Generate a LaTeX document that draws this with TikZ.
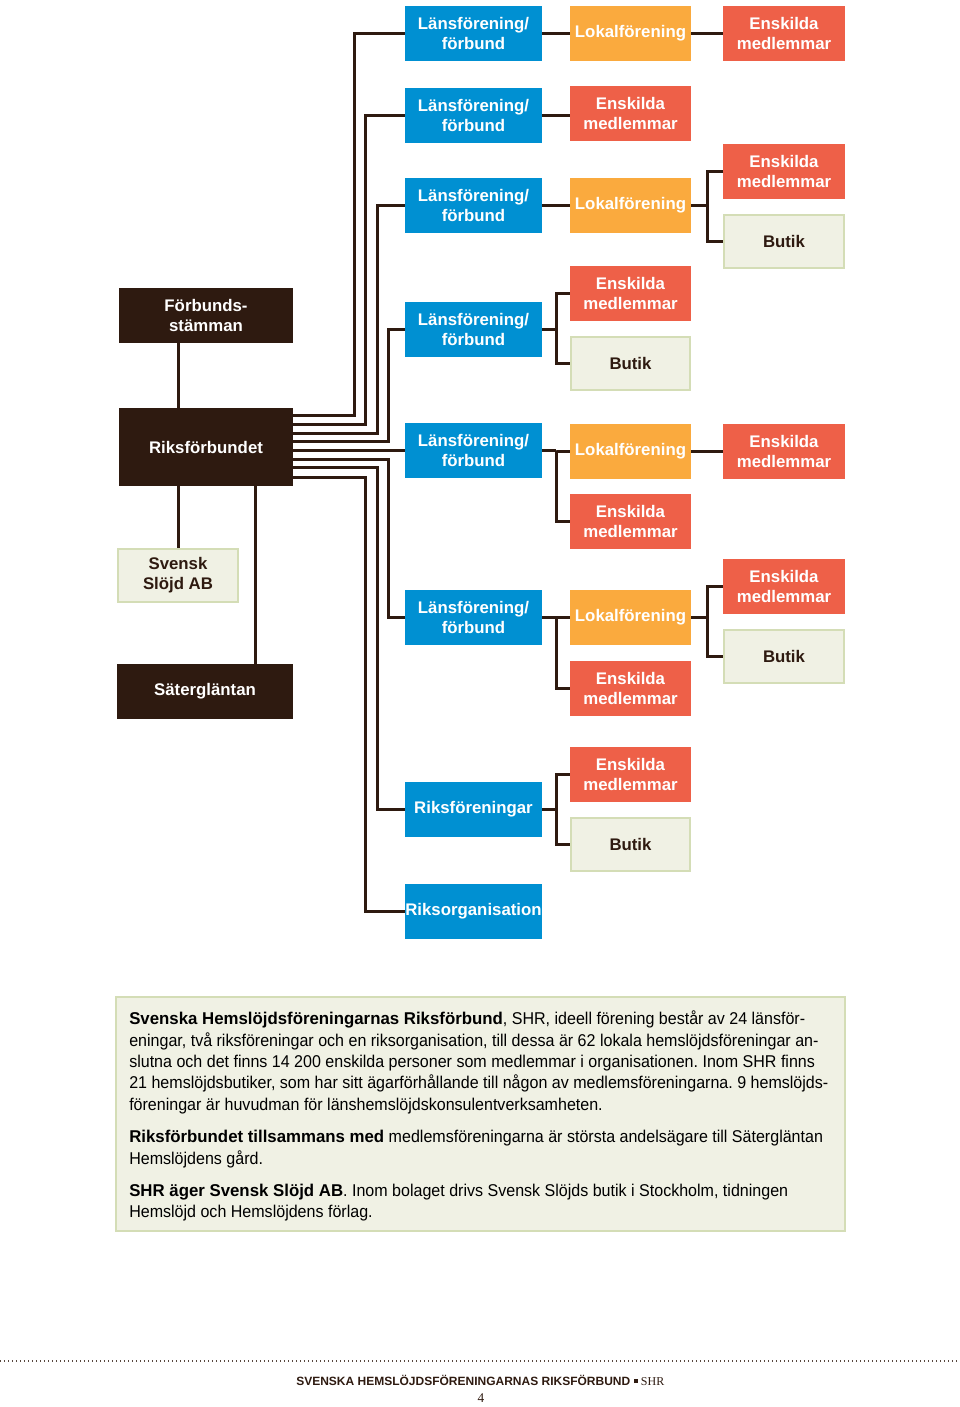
\documentclass[tikz,border=0pt]{standalone}
\usepackage{fontspec}
\setmainfont{Liberation Sans}
\newfontfamily\brodtext{Liberation Sans}[FakeStretch=0.94]
\newfontfamily\brodfet{Liberation Sans Bold}[FakeStretch=0.985]
\newfontfamily\antikva{Liberation Serif}
\newcommand{\fet}[1]{{\brodfet #1}}
\frenchspacing

\definecolor{shrbla}{RGB}{0,144,210}
\definecolor{shrorange}{RGB}{250,170,62}
\definecolor{shrrod}{RGB}{238,96,72}
\definecolor{shrmork}{RGB}{46,26,16}
\definecolor{butikfond}{RGB}{240,241,228}
\definecolor{butikkant}{RGB}{212,221,182}

\begin{document}
\begin{tikzpicture}[x=0.75pt,y=-0.75pt,
  every node/.style={inner sep=0pt,align=center,font=\fontsize{12.6}{15}\selectfont\bfseries},
  lan/.style={fill=shrbla,text=white,minimum width=102.75pt,minimum height=41.25pt},
  lokal/.style={fill=shrorange,text=white,minimum width=90.75pt,minimum height=41.25pt},
  enskild/.style={fill=shrrod,text=white,minimum width=91pt,minimum height=41.25pt},
  butik/.style={fill=butikfond,draw=butikkant,line width=1.5pt,text=shrmork,minimum width=89.5pt,minimum height=40pt},
  ledning/.style={fill=shrmork,text=white,minimum width=130.5pt,minimum height=41.25pt},
  linje/.style={draw=shrmork,line width=2.25pt}]
\useasboundingbox (0,0) rectangle (960,1407);

\node [ledning] (forb) at (206,315.5) {Förbunds-\\stämman};
\node [ledning,minimum height=58.5pt] (riks) at (206,447) {Riksförbundet};
\node [butik,minimum width=90pt] (svensk) at (178,575.5) {Svensk\\Slöjd AB};
\node [ledning,minimum width=132pt] (sater) at (205,691.5) {Sätergläntan};
\coordinate (saterled) at (255,0);

\node [lan] (l1) at (473.5,33.5) {Länsförening/\\förbund};
\node [lan] (l2) at (473.5,115.5) {Länsförening/\\förbund};
\node [lan] (l3) at (473.5,205) {Länsförening/\\förbund};
\node [lan] (l4) at (473.5,329.5) {Länsförening/\\förbund};
\node [lan] (l5) at (473.5,450.5) {Länsförening/\\förbund};
\node [lan] (l6) at (473.5,617.5) {Länsförening/\\förbund};
\node [lan] (l7) at (473.5,809) {Riksföreningar};
\node [lan] (l8) at (473.5,911.5) {Riksorganisation};

\node [lokal] (m1) at (630.5,33.5) {Lokalförening};
\node [enskild,minimum width=90.75pt] (m2) at (630.5,113.5) {Enskilda\\medlemmar};
\node [lokal] (m3) at (630.5,205) {Lokalförening};
\node [enskild,minimum width=90.75pt] (m4) at (630.5,293.5) {Enskilda\\medlemmar};
\node [butik] (m5) at (630.5,363.5) {Butik};
\node [lokal] (m6) at (630.5,451.5) {Lokalförening};
\node [enskild,minimum width=90.75pt] (m7) at (630.5,521.5) {Enskilda\\medlemmar};
\node [lokal] (m8) at (630.5,617.5) {Lokalförening};
\node [enskild,minimum width=90.75pt] (m9) at (630.5,688.5) {Enskilda\\medlemmar};
\node [enskild,minimum width=90.75pt] (m10) at (630.5,774.5) {Enskilda\\medlemmar};
\node [butik] (m11) at (630.5,844.5) {Butik};

\node [enskild] (r1) at (784,33.5) {Enskilda\\medlemmar};
\node [enskild] (r2) at (784,171.5) {Enskilda\\medlemmar};
\node [butik,minimum width=90.25pt] (r3) at (784,241.5) {Butik};
\node [enskild] (r4) at (784,451.5) {Enskilda\\medlemmar};
\node [enskild] (r5) at (784,586.5) {Enskilda\\medlemmar};
\node [butik,minimum width=90.25pt] (r6) at (784,656.5) {Butik};

\draw [linje] (forb.south -| svensk.north) -- (riks.north -| svensk.north);
\draw [linje] (riks.south -| svensk.north) -- (svensk.north);
\draw [linje] (riks.south -| saterled) -- (sater.north -| saterled);

\foreach \lan/\dy/\bx in {l1/-32/354,l2/-23/365,l3/-14/377,l4/-6/388,l5/3.5/396,l6/12/388,l7/20/377,l8/30/365}
  \draw [linje] (riks.east) ++(0,\dy) -| (\bx,0 |- \lan.west) -- (\lan.west);

\draw [linje] (l1.east) -- (m1.west);
\draw [linje] (m1.east) -- (r1.west);
\draw [linje] (l2.east) -- (l2.east -| m2.west);
\draw [linje] (l3.east) -- (m3.west);
\draw [linje] (m3.east) -- ++(16,0) coordinate (g3);
\draw [linje] (r2.west) -| (g3) |- (r3.west);
\draw [linje] (l4.east) -- ++(14,0) coordinate (g4);
\draw [linje] (m4.west) -| (g4) |- (m5.west);
\draw [linje] (l5.east) -- ++(14,0) coordinate (g5);
\draw [linje] (m6.west) -| (g5) |- (m7.west);
\draw [linje] (m6.east) -- (r4.west);
\draw [linje] (l6.east) -- ++(14,0) coordinate (g6);
\draw [linje] (m8.west) -| (g6) |- (m9.west);
\draw [linje] (m8.east) -- ++(16,0) coordinate (g8);
\draw [linje] (r5.west) -| (g8) |- (r6.west);
\draw [linje] (l7.east) -- ++(14,0) coordinate (g7);
\draw [linje] (m10.west) -| (g7) |- (m11.west);

\draw [fill=butikfond,draw=butikkant,line width=1.5pt] (116,997) rectangle (845,1231);
\node [anchor=north west,align=left,font=\brodtext\fontsize{12.8}{16.1}\selectfont] (fakta) at (129,1010.5) {%
\fet{Svenska Hemslöjdsföreningarnas Riksförbund}, SHR, ideell förening består av 24 länsför-\\
eningar, två riksföreningar och en riksorganisation, till dessa är 62 lokala hemslöjdsföreningar an-\\
slutna och det finns 14 200 enskilda personer som medlemmar i organisationen. Inom SHR finns\\
21 hemslöjdsbutiker, som har sitt ägarförhållande till någon av medlemsföreningarna. 9 hemslöjds-\\
föreningar är huvudman för länshemslöjdskonsulentverksamheten.\\[8pt]
\fet{Riksförbundet tillsammans med} medlemsföreningarna är största andelsägare till Sätergläntan\\
Hemslöjdens gård.\\[8pt]
\fet{SHR äger Svensk Slöjd AB}. Inom bolaget drivs Svensk Slöjds butik i Stockholm, tidningen\\
Hemslöjd och Hemslöjdens förlag.};

\draw [draw=shrmork!80,line width=1pt,dash pattern=on 1pt off 2pt] (0,1361) -- (960,1361);
\node [anchor=west,font=\fontsize{9}{10}\selectfont\bfseries,text=shrmork] (sidfot) at (296,1380)
  {SVENSKA HEMSLÖJDSFÖRENINGARNAS RIKSFÖRBUND \raisebox{1.5pt}{\rule{3pt}{3pt}} {\antikva\mdseries SHR}};
\node [font=\antikva\fontsize{10}{11}\selectfont\mdseries,text=shrmork] (sida) at (481,1398) {4};
\end{tikzpicture}
\end{document}
